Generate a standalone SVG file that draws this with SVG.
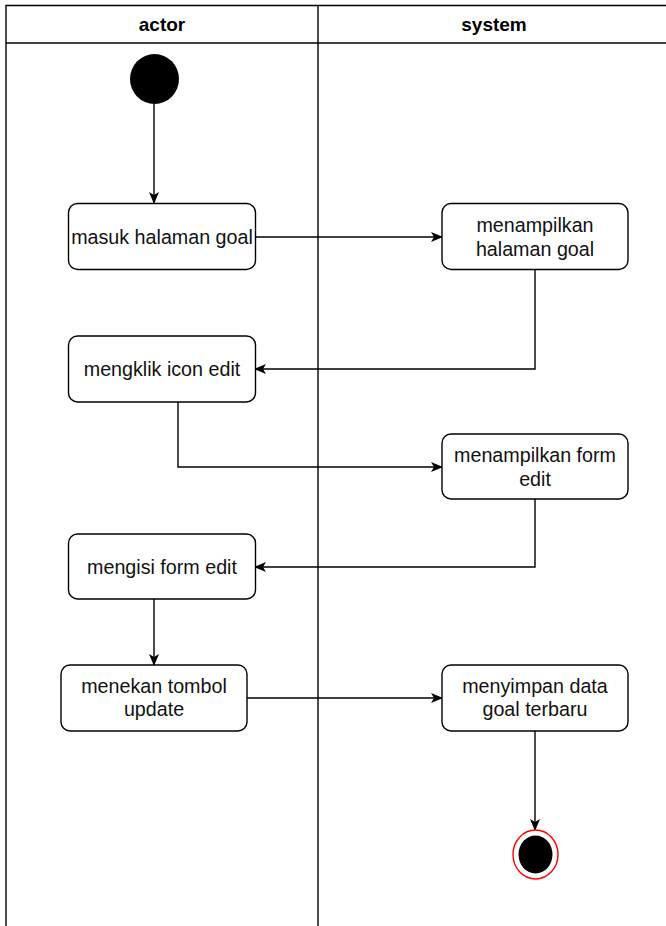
<svg xmlns="http://www.w3.org/2000/svg" width="666" height="926" viewBox="0 0 666 926">
  <style>
    .lane { fill: none; stroke: #000; stroke-width: 1.4; }
    .head { font-family: "Liberation Sans", Arial, sans-serif; font-size: 19px; font-weight: bold; text-anchor: middle; fill: #000; }
    .act rect { fill: #fff; stroke: #000; stroke-width: 1.4; }
    .act text { font-family: "Liberation Sans", Arial, sans-serif; font-size: 19.7px; text-anchor: middle; fill: #111; }
    .edge { fill: none; stroke: #000; stroke-width: 1.4; marker-end: url(#arrow); }
  </style>
  <defs>
    <marker id="arrow" viewBox="0 0 12 10" refX="11" refY="5" markerWidth="12" markerHeight="10" markerUnits="userSpaceOnUse" orient="auto">
      <path d="M0,0 L12,5 L0,10 L3,5 Z" fill="#000"/>
    </marker>
  </defs>
  <rect width="666" height="926" fill="#fff"/>

  <!-- swimlanes -->
  <g id="lanes">
    <path class="lane" d="M6,940 V5.5 H680 M6,43 H680 M318,5.5 V940"/>
    <text class="head" x="162" y="31">actor</text>
    <text class="head" x="494" y="31">system</text>
  </g>

  <!-- connectors -->
  <g id="connectors">
    <path class="edge" d="M154,104 V203"/>
    <path class="edge" d="M255,237 H442"/>
    <path class="edge" d="M535,270 V369 H255"/>
    <path class="edge" d="M178,402 V467 H442"/>
    <path class="edge" d="M535,499 V567 H255"/>
    <path class="edge" d="M154,599 V665"/>
    <path class="edge" d="M247,698 H442"/>
    <path class="edge" d="M535,731 V830"/>
  </g>

  <g id="start">
    <ellipse cx="154.5" cy="79" rx="24.5" ry="25" fill="#000"/>
  </g>

  <g id="masuk-halaman-goal" class="act">
    <rect x="68.5" y="203.5" width="187" height="66" rx="9"/>
    <text x="162" y="244">masuk halaman goal</text>
  </g>

  <g id="menampilkan-halaman-goal" class="act">
    <rect x="442" y="203.5" width="186" height="66" rx="9"/>
    <text x="535" y="232">menampilkan</text>
    <text x="535" y="256">halaman goal</text>
  </g>

  <g id="mengklik-icon-edit" class="act">
    <rect x="68.5" y="336" width="187" height="66" rx="9"/>
    <text x="162" y="376">mengklik icon edit</text>
  </g>

  <g id="menampilkan-form-edit" class="act">
    <rect x="442" y="434" width="186" height="65" rx="9"/>
    <text x="535" y="462">menampilkan form</text>
    <text x="535" y="486">edit</text>
  </g>

  <g id="mengisi-form-edit" class="act">
    <rect x="68.5" y="534" width="187" height="65" rx="9"/>
    <text x="162" y="574">mengisi form edit</text>
  </g>

  <g id="menekan-tombol-update" class="act">
    <rect x="61" y="665" width="186" height="66" rx="9"/>
    <text x="154" y="693">menekan tombol</text>
    <text x="154" y="716">update</text>
  </g>

  <g id="menyimpan-data-goal-terbaru" class="act">
    <rect x="442" y="665" width="186" height="66" rx="9"/>
    <text x="535" y="693">menyimpan data</text>
    <text x="535" y="716">goal terbaru</text>
  </g>

  <g id="end">
    <ellipse cx="535.5" cy="854.5" rx="22.5" ry="24.5" fill="#fff" stroke="#ff0000" stroke-width="1.4"/>
    <ellipse cx="535.5" cy="854.5" rx="17" ry="19" fill="#000"/>
  </g>
</svg>
